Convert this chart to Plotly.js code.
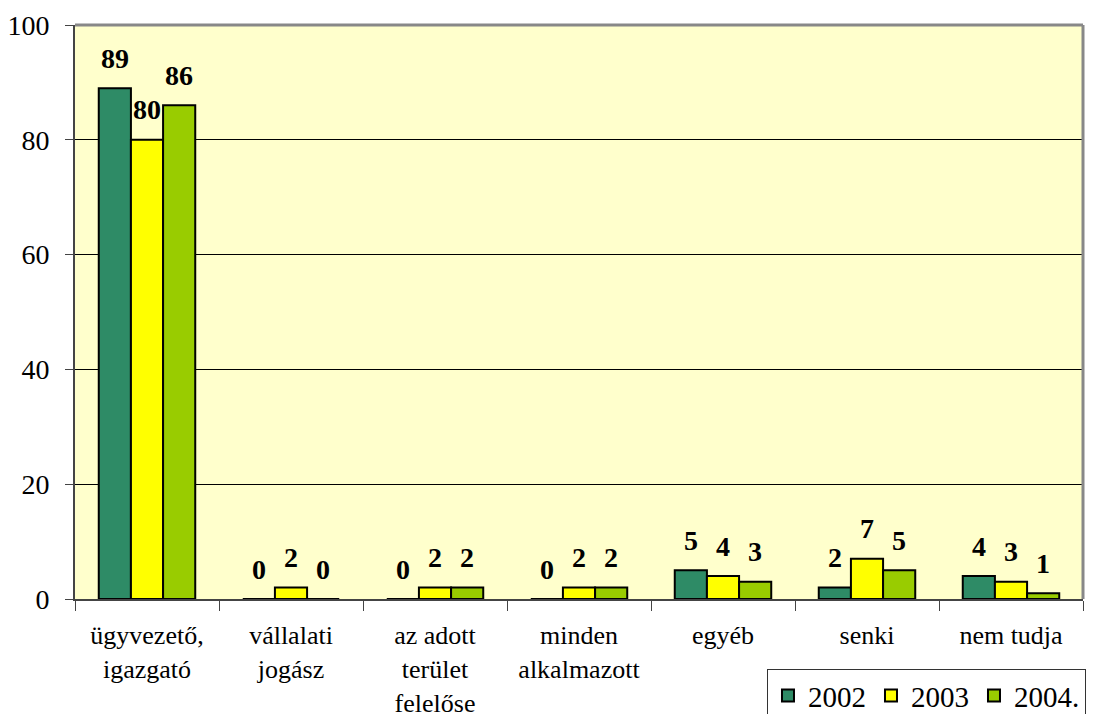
<!DOCTYPE html>
<html><head><meta charset="utf-8">
<script src="https://cdn.plot.ly/plotly-3.0.1.min.js"></script>
<style>
html,body{margin:0;padding:0;background:#fff;}
#chart{width:1097px;height:714px;}
</style>
</head><body><div id="chart"></div>
<script>
const categories = ["ügyvezető,<br>igazgató", "vállalati<br>jogász", "az adott<br>terület<br>felelőse", "minden<br>alkalmazott", "egyéb", "senki", "nem tudja"];
const seriesNames = ["2002", "2003", "2004."];
const values2002 = [89, 0, 0, 0, 5, 2, 4];
const values2003 = [80, 2, 2, 2, 4, 7, 3];
const values2004 = [86, 0, 2, 2, 3, 5, 1];
const colors = ["#2E8B66", "#FFFF00", "#99CC00"];

const FONT = "Times New Roman";
const allValues = [values2002, values2003, values2004];
const traces = allValues.map((vals, i) => ({
  type: "bar", name: seriesNames[i], x: categories, y: vals,
  marker: {color: colors[i], line: {color: "#000", width: 2}},
  hoverinfo: "none"
}));

const barPx = 32.3;
const annotations = [];
allValues.forEach((vals, i) => {
  vals.forEach((v, j) => {
    annotations.push({
      x: categories[j], y: v, xref: "x", yref: "y",
      text: "<b>" + v + "</b>", showarrow: false,
      xshift: (i - 1) * barPx, yshift: 30, yanchor: "middle",
      font: {family: FONT, size: 28, color: "#000"}
    });
  });
});

const layout = {
  width: 1097, height: 714,
  margin: {l: 75, r: 14, t: 25, b: 115, pad: 0, autoexpand: false},
  paper_bgcolor: "#ffffff", plot_bgcolor: "#FFFFCC",
  font: {family: FONT, color: "#000"},
  barmode: "group", bargap: 0.33, bargroupgap: 0,
  showlegend: true,
  legend: {orientation: "h", x: 0.6865, y: -0.122, xanchor: "left", yanchor: "top",
    font: {family: FONT, size: 29, color: "#000"}, bgcolor: "#fff",
    bordercolor: "#333", borderwidth: 1, itemwidth: 30, traceorder: "normal"},
  xaxis: {
    tickfont: {family: FONT, size: 26, color: "#000"},
    showline: true, linecolor: "#444", linewidth: 2,
    ticks: "outside", tickson: "boundaries", ticklen: 10, tickcolor: "#444", tickwidth: 1,
    showgrid: false, ticklabelstandoff: 12, fixedrange: true
  },
  yaxis: {
    range: [0, 100], tickvals: [0, 20, 40, 60, 80, 100],
    tickfont: {family: FONT, size: 28, color: "#000"},
    showline: true, linecolor: "#444", linewidth: 2,
    ticks: "outside", ticklen: 8, tickcolor: "#444",
    showgrid: true, gridcolor: "#000", gridwidth: 1, zeroline: false,
    ticklabelstandoff: 10, fixedrange: true
  },
  shapes: [
    {type: "line", xref: "paper", yref: "paper", x0: 0, x1: 1, y0: 1, y1: 1, line: {color: "#888", width: 3}},
    {type: "line", xref: "paper", yref: "paper", x0: 1, x1: 1, y0: 0, y1: 1, line: {color: "#888", width: 3}}
  ],
  annotations: annotations
};
Plotly.newPlot("chart", traces, layout, {displayModeBar: false, staticPlot: true});
</script></body></html>
